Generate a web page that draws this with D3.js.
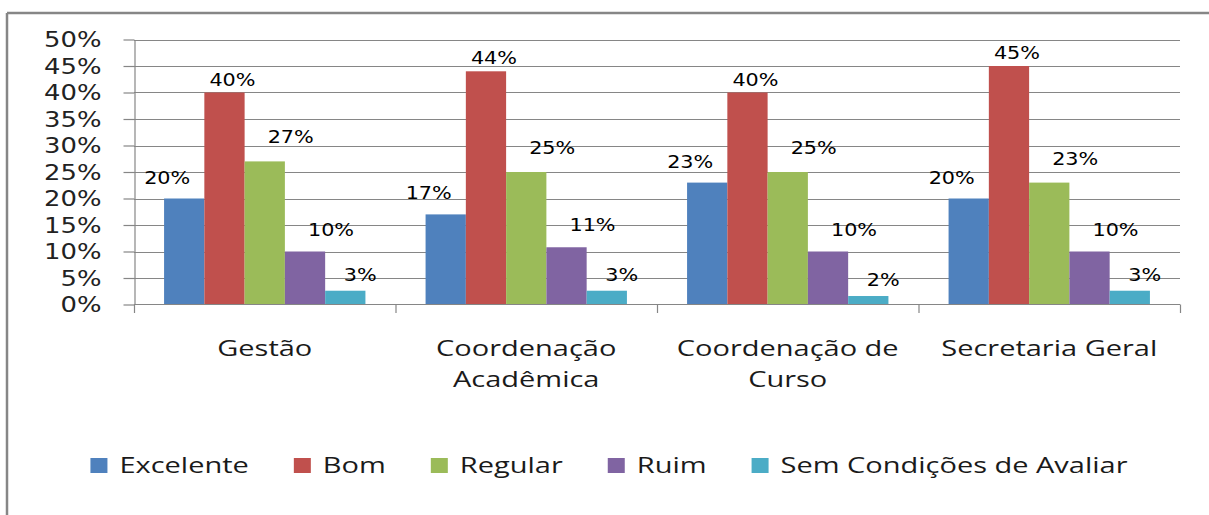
<!DOCTYPE html>
<html>
<head>
<meta charset="utf-8">
<script src="https://cdn.jsdelivr.net/npm/d3@7"></script>
<style>
  body { margin: 0; background: #fff; }
  svg { display: block; }
</style>
</head>
<body>
<svg id="chart" width="1209" height="515"></svg>
<script>
// data
let categories = ["Gestão", "Coordenação Acadêmica", "Coordenação de Curso", "Secretaria Geral"];
let categoryLines = [["Gestão"], ["Coordenação", "Acadêmica"], ["Coordenação de", "Curso"], ["Secretaria Geral"]];
let seriesNames = ["Excelente", "Bom", "Regular", "Ruim", "Sem Condições de Avaliar"];
let excelente = [0.20, 0.17, 0.23, 0.20];
let bom = [0.40, 0.44, 0.40, 0.45];
let regular = [0.27, 0.25, 0.25, 0.23];
let ruim = [0.10, 0.108, 0.10, 0.10];
let semCondicoes = [0.026, 0.026, 0.016, 0.026];
let yTicks = [0, 0.05, 0.10, 0.15, 0.20, 0.25, 0.30, 0.35, 0.40, 0.45, 0.50];

let seriesValues = [excelente, bom, regular, ruim, semCondicoes];
let colors = ["#4F81BD", "#C0504D", "#9BBB59", "#8064A2", "#4BACC6"];
// label nudges per series (the labels in the original sit off-centre)
let labelDx = [-17, 8, 26, 26, 15];
let labelGap = [15, 7, 18, 16, 10];

let svg = d3.select("#chart");
let grey = "#868686";

// stretch text horizontally, the original picture is widened
function stretch(sel, k) {
  sel.each(function() {
    let w = this.getComputedTextLength();
    d3.select(this).attr("textLength", w * k).attr("lengthAdjust", "spacingAndGlyphs");
  });
}

// frame (top + left only)
svg.append("line").attr("x1", 7).attr("x2", 1209).attr("y1", 13).attr("y2", 13)
  .attr("stroke", grey).attr("stroke-width", 2.5);
svg.append("line").attr("x1", 7).attr("x2", 7).attr("y1", 13).attr("y2", 515)
  .attr("stroke", grey).attr("stroke-width", 2.5);

let x0 = d3.scaleBand()
  .domain(categories)
  .range([134, 1180])
  .paddingInner(0.23)
  .paddingOuter(0.115);

let x1 = d3.scaleBand()
  .domain(seriesNames)
  .range([0, x0.bandwidth()]);

let y = d3.scaleLinear()
  .domain([0, 0.5])
  .range([304.5, 39.5]);

// gridlines
svg.append("g")
  .selectAll("line")
  .data(yTicks.filter(d => d > 0))
  .join("line")
  .attr("x1", 134).attr("x2", 1180)
  .attr("y1", d => Math.round(y(d)) + 0.5).attr("y2", d => Math.round(y(d)) + 0.5)
  .attr("stroke", grey).attr("stroke-width", 1.2);

// y axis
let yAxis = svg.append("g")
  .attr("transform", "translate(134.5,0)")
  .call(d3.axisLeft(y)
    .tickValues(yTicks)
    .tickFormat(d3.format(".0%"))
    .tickSize(11)
    .tickSizeOuter(0)
    .tickPadding(22));
yAxis.select(".domain").attr("stroke", grey).attr("stroke-width", 1.2);
yAxis.selectAll(".tick line").attr("stroke", grey).attr("stroke-width", 1.2);
yAxis.selectAll(".tick text")
  .attr("fill", "#222")
  .style("font-family", "'DejaVu Sans', sans-serif")
  .style("font-size", "20.5px")
  .attr("dy", "0.36em")
  .call(stretch, 1.26);

// bars
let groups = svg.append("g")
  .selectAll("g")
  .data(categories)
  .join("g")
  .attr("transform", d => "translate(" + x0(d) + ",0)");

groups.selectAll("rect")
  .data((c, ci) => seriesNames.map((s, si) => ({ s: s, si: si, v: seriesValues[si][ci] })))
  .join("rect")
  .attr("x", d => x1(d.s))
  .attr("y", d => y(d.v))
  .attr("width", x1.bandwidth())
  .attr("height", d => y(0) - y(d.v))
  .attr("fill", d => colors[d.si]);

// x axis line + boundary ticks
svg.append("line")
  .attr("x1", 134).attr("x2", 1180).attr("y1", 304.5).attr("y2", 304.5)
  .attr("stroke", grey).attr("stroke-width", 1.2);
svg.append("g")
  .selectAll("line")
  .data(d3.range(categories.length + 1))
  .join("line")
  .attr("x1", i => x0.range()[0] + i * x0.step() + 0.5)
  .attr("x2", i => x0.range()[0] + i * x0.step() + 0.5)
  .attr("y1", 304.5).attr("y2", 313)
  .attr("stroke", grey).attr("stroke-width", 1.2);

// data labels
groups.selectAll(".lbl")
  .data((c, ci) => seriesNames.map((s, si) => ({ s: s, si: si, v: seriesValues[si][ci] })))
  .join("text")
  .attr("class", "lbl")
  .attr("x", d => x1(d.s) + x1.bandwidth() / 2 + labelDx[d.si])
  .attr("y", d => y(d.v) - labelGap[d.si])
  .attr("text-anchor", "middle")
  .style("font-family", "'DejaVu Sans', sans-serif")
  .style("font-size", "17px")
  .attr("fill", "#000")
  .text(d => d3.format(".0%")(d.v))
  .call(stretch, 1.22);

// category labels
categories.forEach((c, ci) => {
  categoryLines[ci].forEach((line, li) => {
    svg.append("text")
      .attr("x", x0(c) + x0.bandwidth() / 2)
      .attr("y", 356 + li * 31)
      .attr("text-anchor", "middle")
      .style("font-family", "'Open Sans', sans-serif")
      .style("font-size", "21px")
      .attr("fill", "#1a1a1a")
      .text(line)
      .call(stretch, 1.38);
  });
});

// legend
let legend = svg.append("g");
let lx = 0;
seriesNames.forEach((s, si) => {
  legend.append("rect")
    .attr("x", lx).attr("y", 458)
    .attr("width", 17).attr("height", 15)
    .attr("fill", colors[si]);
  let t = legend.append("text")
    .attr("x", lx + 29)
    .attr("y", 473)
    .style("font-family", "'Open Sans', sans-serif")
    .style("font-size", "21px")
    .attr("fill", "#1a1a1a")
    .text(s)
    .call(stretch, 1.38);
  lx += 29 + +t.attr("textLength") + 45;
});
let lw = lx - 45;
legend.attr("transform", "translate(" + (609 - lw / 2) + ",0)");
</script>
</body>
</html>
